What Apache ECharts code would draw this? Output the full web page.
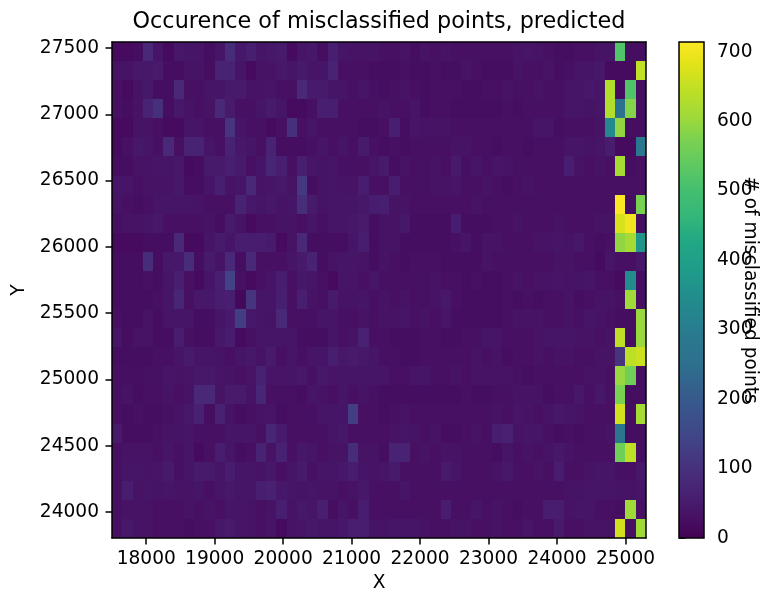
<!DOCTYPE html>
<html>
<head>
<meta charset="utf-8">
<script src="https://cdn.jsdelivr.net/npm/echarts@6/dist/echarts.min.js"></script>
<style>
  html, body { margin: 0; padding: 0; background: #ffffff; }
  #chart { width: 764px; height: 593px; }
</style>
</head>
<body>
<div id="chart"></div>
<script>
// 2D histogram bins: 52 columns in X, 26 rows in Y
const xBinStart = 17500;
const xBinWidth = 150;
const xBinCount = 52;
const yBinStart = 23805;
const yBinEnd = 27545;
const yBinCount = 26;

// Tick labels
const xTicks = [18000, 19000, 20000, 21000, 22000, 23000, 24000, 25000];
const yTicks = [24000, 24500, 25000, 25500, 26000, 26500, 27000, 27500];
const colorbarTicks = [0, 100, 200, 300, 400, 500, 600, 700];
const countMax = 714;

// Counts of misclassified points per bin, one row per Y bin, top row (highest Y) first,
// columns left (low X) to right (high X)
const countsByRow = [
  [20,20,25,80,40,20,45,40,40,25,40,90,45,60,40,45,50,20,40,45,25,60,40,35,35, 35,30,30,35,25,35,30,35,30,30,30,30,30,30,35,40,35,30,25,25,30,30,35,35,518,25,25],
  [35,35,45,45,50,25,25,35,35,25,70,70,40,20,35,35,45,40,50,40,40,70,30,30,30, 25,25,25,30,25,25,30,25,25,35,30,25,25,25,35,30,30,35,25,30,40,40,45,20,20,20,647],
  [30,20,35,45,25,25,80,30,30,40,40,50,50,35,35,40,30,30,80,50,50,40,40,30,40, 30,25,30,35,30,25,30,30,30,25,25,30,30,35,30,30,35,30,30,40,40,45,40,630,20,518,25],
  [30,25,35,70,100,25,45,35,30,35,80,50,30,30,40,50,40,20,20,30,60,60,30,30,30, 30,35,30,30,40,25,30,30,25,25,25,25,25,30,25,30,30,30,30,40,40,35,40,630,257,580,25],
  [20,20,35,35,30,20,20,40,40,30,30,110,40,30,30,20,30,100,30,40,30,30,30,30,25, 25,30,60,25,40,35,35,35,30,30,30,30,30,30,30,30,40,40,25,30,30,30,35,336,593,25,25],
  [20,30,45,40,30,80,30,70,70,40,30,70,45,40,30,70,25,25,25,30,40,30,40,30,50, 30,25,30,25,30,30,30,30,35,35,30,30,25,30,30,25,30,30,30,40,40,35,40,55,20,20,285],
  [25,25,35,35,40,40,45,20,25,50,50,60,50,30,40,75,60,30,60,40,35,40,30,30,30, 40,50,25,35,30,30,35,30,50,30,40,30,40,35,30,30,30,30,30,60,35,30,35,30,614,25,30],
  [40,40,30,35,35,35,45,25,25,40,60,35,40,80,35,40,45,35,120,25,35,40,35,35,55, 30,30,55,30,30,30,35,35,40,30,30,35,30,25,30,35,30,30,30,30,30,30,30,30,30,30,30],
  [35,30,25,30,40,40,40,40,35,30,30,30,70,45,40,45,35,40,95,50,35,40,40,40,45, 55,60,35,35,30,30,30,30,30,30,35,30,30,30,30,30,30,30,30,30,30,30,30,30,714,25,570],
  [30,35,35,40,45,30,30,30,30,35,25,50,35,20,30,30,35,35,30,40,30,40,40,45,50, 25,35,35,45,25,25,25,25,55,25,25,25,30,30,35,30,30,30,35,30,30,30,35,35,671,700,25],
  [20,20,20,25,25,25,80,20,20,40,50,40,55,55,55,50,20,35,80,25,25,25,25,40,55, 25,35,35,25,25,25,25,25,30,40,25,35,35,30,30,30,35,35,40,35,45,30,25,30,593,614,371],
  [25,25,25,90,25,45,45,90,25,50,35,80,25,80,30,30,30,40,50,70,25,35,40,40,35, 25,35,30,25,30,30,30,25,25,25,25,35,30,30,30,30,30,30,35,35,30,30,20,40,30,30,45],
  [25,25,25,30,25,40,60,30,20,40,60,140,30,20,30,40,55,30,45,40,30,20,40,40,30, 40,30,30,30,30,30,35,30,30,25,30,25,25,30,35,30,35,35,40,35,35,40,30,30,20,343,25],
  [25,25,25,25,30,40,75,30,45,45,55,60,15,110,40,40,60,30,60,35,30,50,35,35,40, 30,35,30,35,30,30,35,45,30,25,25,25,25,30,25,30,25,30,30,35,25,30,35,35,30,607,25],
  [30,25,25,35,25,40,40,40,25,25,40,50,130,45,40,35,80,30,30,30,40,40,30,30,35, 30,35,35,40,30,35,30,40,25,25,25,25,25,30,35,35,35,30,30,35,30,40,35,30,25,25,600],
  [40,25,35,35,25,25,55,30,25,25,45,55,20,30,40,40,40,40,25,25,25,40,30,35,65, 30,30,25,25,25,30,30,25,25,30,30,40,40,30,30,30,35,40,40,40,35,35,30,35,643,25,600],
  [25,25,25,25,30,30,40,50,40,40,35,30,40,45,35,50,30,40,30,40,40,60,45,50,45, 40,30,30,25,25,30,30,30,30,30,35,30,35,25,30,30,35,30,35,35,30,30,35,35,110,643,657],
  [30,28,28,30,32,40,35,38,45,45,38,35,30,38,65,40,38,40,45,32,45,38,40,40,40, 40,40,30,30,40,40,30,30,35,30,35,35,35,35,30,25,30,30,30,30,30,35,35,30,600,560,25],
  [30,35,25,30,30,35,30,35,80,80,35,50,50,35,75,30,30,30,25,40,35,30,40,30,35, 30,25,25,25,25,25,25,25,25,30,25,25,30,30,35,35,35,25,30,30,45,30,45,30,570,25,25],
  [30,25,30,25,25,30,35,45,65,25,65,35,25,30,35,40,25,30,30,30,40,40,40,130,30, 30,25,30,35,30,30,30,30,30,30,30,30,35,30,40,35,30,35,45,40,35,30,30,30,664,25,614],
  [50,25,25,25,30,35,35,40,30,30,30,40,40,40,30,75,50,30,30,30,30,40,45,30,30, 30,30,35,40,35,30,35,25,25,30,35,30,60,65,35,40,40,30,25,30,25,30,30,35,270,25,25],
  [30,35,35,35,30,40,30,40,20,30,55,40,25,30,70,35,65,30,45,40,30,35,35,90,35, 35,25,70,70,30,35,30,35,35,30,30,30,25,40,30,35,30,35,45,35,30,30,30,30,557,643,25],
  [30,40,40,35,40,50,30,40,50,50,40,55,40,40,35,45,30,40,50,30,40,40,45,55,40, 35,40,50,30,30,30,30,50,40,30,30,30,35,45,30,30,35,30,55,30,30,35,40,40,30,30,45],
  [30,55,35,40,35,40,35,35,40,30,40,45,40,40,60,65,45,40,35,40,35,35,30,35,45, 30,30,30,40,30,30,30,30,30,30,30,30,30,30,30,30,30,30,30,35,35,40,40,40,35,35,40],
  [30,35,35,35,30,30,30,35,30,35,30,40,40,35,30,35,60,35,45,40,60,25,40,30,55, 30,30,30,30,30,30,30,55,30,30,40,30,35,30,25,30,30,55,55,35,40,40,30,30,25,607,30],
  [30,45,35,35,30,30,30,25,30,30,45,50,40,35,30,40,20,35,40,45,40,40,45,60,55, 35,35,40,40,40,35,30,30,35,35,30,30,35,30,30,40,30,30,50,30,30,35,35,35,664,30,607]
];

// viridis colour ramp
const viridis = ['#440154', '#471365', '#482475', '#46337e', '#414487', '#3b528b',
  '#355f8d', '#2d708e', '#2a788e', '#25848e', '#21918c', '#1f9e89', '#22a884',
  '#35b779', '#44bf70', '#5ec962', '#7ad151', '#a0da39', '#bddf26', '#dfe318', '#fde725'];

const yBinHeight = (yBinEnd - yBinStart) / yBinCount;

// Each item: [left X edge, bottom Y edge, count]
const cells = [];
countsByRow.forEach((row, r) => {
  const yLow = yBinStart + (yBinCount - 1 - r) * yBinHeight;
  row.forEach((count, c) => {
    cells.push([xBinStart + c * xBinWidth, yLow, count]);
  });
});

const font = 'DejaVu Sans';
const labelSize = 18.6;
const plot = { left: 112, top: 42, width: 534, height: 496 };
const bar = { left: 679, top: 42, width: 25, height: 496 };
const plain = v => String(v);

const chart = echarts.init(document.getElementById('chart'), null, { renderer: 'canvas' });

const frameAxis = {
  axisLine: { show: true, onZero: false, lineStyle: { color: '#000', width: 1.5 } },
  axisTick: { show: false },
  axisLabel: { show: false },
  splitLine: { show: false },
  z: 5
};

chart.setOption({
  animation: false,
  backgroundColor: '#ffffff',
  textStyle: { fontFamily: font, color: '#000' },
  title: {
    text: 'Occurence of misclassified points, predicted',
    left: 374,
    top: 6,
    textAlign: 'center',
    textStyle: { fontFamily: font, fontSize: 22.3, fontWeight: 'normal', color: '#000' }
  },
  grid: [
    Object.assign({ containLabel: false, outerBoundsMode: 'none' }, plot),
    Object.assign({ containLabel: false, outerBoundsMode: 'none' }, bar)
  ],
  xAxis: [
    {
      type: 'value', gridIndex: 0, min: xBinStart, max: xBinStart + xBinCount * xBinWidth,
      name: 'X', nameLocation: 'middle', nameGap: 35,
      nameTextStyle: { fontFamily: font, fontSize: labelSize, color: '#000' },
      axisLine: { show: true, onZero: false, lineStyle: { color: '#000', width: 1.5 } },
      axisTick: { show: true, inside: false, length: 6.5, customValues: xTicks, lineStyle: { color: '#000', width: 1.5 } },
      axisLabel: { show: true, margin: 12, fontSize: labelSize, fontFamily: font, color: '#000', customValues: xTicks, formatter: plain },
      splitLine: { show: false },
      z: 5
    },
    Object.assign({ type: 'value', gridIndex: 0, position: 'top', min: xBinStart, max: xBinStart + xBinCount * xBinWidth }, frameAxis),
    { type: 'value', gridIndex: 1, show: false, min: 0, max: 1 }
  ],
  yAxis: [
    {
      type: 'value', gridIndex: 0, min: yBinStart, max: yBinEnd,
      name: 'Y', nameLocation: 'middle', nameGap: 74, nameRotate: 90,
      nameTextStyle: { fontFamily: font, fontSize: labelSize, color: '#000' },
      axisLine: { show: true, onZero: false, lineStyle: { color: '#000', width: 1.5 } },
      axisTick: { show: true, inside: false, length: 6.5, customValues: yTicks, lineStyle: { color: '#000', width: 1.5 } },
      axisLabel: { show: true, margin: 13, fontSize: labelSize, fontFamily: font, color: '#000', customValues: yTicks, formatter: plain },
      splitLine: { show: false },
      z: 5
    },
    Object.assign({ type: 'value', gridIndex: 0, position: 'right', min: yBinStart, max: yBinEnd }, frameAxis),
    {
      type: 'value', gridIndex: 1, position: 'right', min: 0, max: countMax,
      axisLine: { show: false },
      axisTick: { show: true, inside: false, length: 6.5, customValues: colorbarTicks, lineStyle: { color: '#000', width: 1.5 } },
      axisLabel: { show: true, margin: 13, fontSize: labelSize, fontFamily: font, color: '#000', customValues: colorbarTicks, formatter: plain },
      splitLine: { show: false }
    }
  ],
  visualMap: {
    type: 'continuous',
    show: false,
    min: 0,
    max: countMax,
    dimension: 2,
    seriesIndex: 0,
    inRange: { color: viridis }
  },
  graphic: [
    {
      type: 'rect',
      z: 10,
      shape: { x: bar.left, y: bar.top, width: bar.width, height: bar.height },
      style: {
        fill: new echarts.graphic.LinearGradient(0, 1, 0, 0,
          viridis.map((c, i) => ({ offset: i / (viridis.length - 1), color: c }))),
        stroke: '#000',
        lineWidth: 1.5
      }
    },
    {
      // colour bar title, reading top to bottom
      type: 'text',
      z: 11,
      x: 750,
      y: bar.top + bar.height / 2,
      rotation: -Math.PI / 2,
      style: {
        text: '# of misclassified points',
        font: labelSize + 'px "DejaVu Sans"',
        fill: '#000',
        align: 'center',
        verticalAlign: 'middle'
      }
    }
  ],
  series: [
    {
      type: 'custom',
      xAxisIndex: 0,
      yAxisIndex: 0,
      data: cells,
      encode: { x: 0, y: 1 },
      z: 2,
      renderItem: function (params, api) {
        const x0 = api.value(0);
        const y0 = api.value(1);
        const topLeft = api.coord([x0, y0 + yBinHeight]);
        const bottomRight = api.coord([x0 + xBinWidth, y0]);
        const left = Math.round(topLeft[0]);
        const top = Math.round(topLeft[1]);
        const right = Math.round(bottomRight[0]);
        const bottom = Math.round(bottomRight[1]);
        return {
          type: 'rect',
          shape: { x: left, y: top, width: right - left, height: bottom - top },
          style: { fill: api.visual('color') }
        };
      }
    }
  ]
});
</script>
</body>
</html>
